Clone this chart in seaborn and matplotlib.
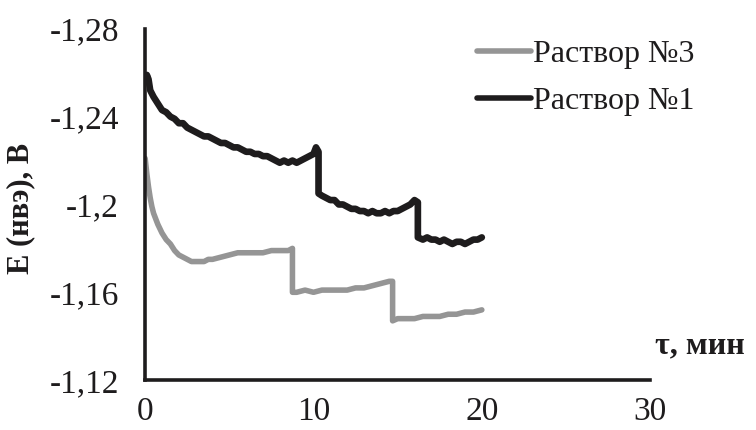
import matplotlib
matplotlib.use('Agg')
import matplotlib.pyplot as plt
import seaborn as sns
import pandas as pd

# Раствор №1 (black curve), E in V vs time in min
t_sol1 = [0.05, 0.1, 0.2, 0.3, 0.5, 0.75, 1.0, 1.25, 1.5, 1.75, 2.0, 2.25, 2.5, 2.75,
          3.0, 3.25, 3.5, 3.75, 4.0, 4.25, 4.5, 4.75, 5.0, 5.25, 5.5, 5.75, 6.0, 6.25,
          6.5, 6.75, 7.0, 7.25, 7.5, 7.75, 8.0, 8.25, 8.5, 8.75, 9.0, 9.25, 9.5, 9.75,
          10.0, 10.15, 10.3, 10.3, 10.5, 10.75, 11.0, 11.25, 11.5, 11.75, 12.0, 12.25,
          12.5, 12.75, 13.0, 13.25, 13.5, 13.75, 14.0, 14.25, 14.5, 14.75, 15.0, 15.25,
          15.5, 15.75, 16.0, 16.2, 16.2, 16.5, 16.75, 17.0, 17.25, 17.5, 17.75, 18.0,
          18.25, 18.5, 18.75, 19.0, 19.25, 19.5, 19.75, 20.0]
e_sol1 = [-1.256, -1.259, -1.257, -1.252, -1.249, -1.246, -1.243, -1.242, -1.240, -1.239,
          -1.237, -1.237, -1.235, -1.234, -1.233, -1.232, -1.231, -1.231, -1.230, -1.229,
          -1.228, -1.228, -1.227, -1.226, -1.226, -1.225, -1.224, -1.224, -1.223, -1.223,
          -1.222, -1.222, -1.221, -1.220, -1.219, -1.220, -1.219, -1.220, -1.219, -1.220,
          -1.221, -1.222, -1.223, -1.226, -1.224, -1.205, -1.204, -1.203, -1.202, -1.202,
          -1.200, -1.200, -1.199, -1.198, -1.198, -1.197, -1.197, -1.196, -1.197, -1.196,
          -1.196, -1.197, -1.196, -1.197, -1.197, -1.198, -1.199, -1.200, -1.202, -1.201,
          -1.185, -1.184, -1.185, -1.184, -1.184, -1.183, -1.184, -1.183, -1.182, -1.183,
          -1.183, -1.182, -1.183, -1.184, -1.184, -1.185]

# Раствор №3 (grey curve)
t_sol3 = [0.0, 0.1, 0.2, 0.3, 0.4, 0.5, 0.75, 1.0, 1.25, 1.5, 1.75, 2.0, 2.25, 2.5,
          2.75, 3.0, 3.25, 3.5, 3.75, 4.0, 4.5, 5.0, 5.5, 6.0, 6.5, 7.0, 7.5, 8.0, 8.5,
          8.75, 8.75, 9.0, 9.5, 10.0, 10.5, 11.0, 11.5, 12.0, 12.5, 13.0, 13.5, 14.0,
          14.5, 14.7, 14.7, 15.0, 15.5, 16.0, 16.5, 17.0, 17.5, 18.0, 18.5, 19.0, 19.5, 20.0]
e_sol3 = [-1.221, -1.214, -1.208, -1.203, -1.199, -1.196, -1.191, -1.187, -1.184, -1.182,
          -1.179, -1.177, -1.176, -1.175, -1.174, -1.174, -1.174, -1.174, -1.175, -1.175,
          -1.176, -1.177, -1.178, -1.178, -1.178, -1.178, -1.179, -1.179, -1.179, -1.180,
          -1.160, -1.160, -1.161, -1.160, -1.161, -1.161, -1.161, -1.161, -1.162, -1.162,
          -1.163, -1.164, -1.165, -1.165, -1.147, -1.148, -1.148, -1.148, -1.149, -1.149,
          -1.149, -1.150, -1.150, -1.151, -1.151, -1.152]

series_names = ['Раствор №3', 'Раствор №1']
y_ticks = [-1.28, -1.24, -1.2, -1.16, -1.12]
y_tick_labels = ['-1,28', '-1,24', '-1,2', '-1,16', '-1,12']
x_ticks = [0, 10, 20, 30]

df = pd.concat([
    pd.DataFrame({'t': t_sol3, 'E': e_sol3, 'series': series_names[0]}),
    pd.DataFrame({'t': t_sol1, 'E': e_sol1, 'series': series_names[1]}),
])

sns.set_style('white')
plt.rcParams['font.family'] = ['Liberation Serif', 'DejaVu Serif']

fig = plt.figure(figsize=(7.56, 4.30), dpi=100)
ax = fig.add_axes([0.192, 0.116, 0.668, 0.817])

palette = {series_names[0]: '#959595', series_names[1]: '#1e1c1d'}
sns.lineplot(data=df, x='t', y='E', hue='series', hue_order=series_names,
             palette=palette, estimator=None, sort=False, units='series',
             linewidth=4.0, ax=ax)
# black curve a bit heavier, like the noisy trace in the original
ax.get_lines()[1].set_linewidth(4.8)

ax.set_xlim(0, 30)
ax.set_ylim(-1.12, -1.28)
ax.set_xticks(x_ticks)
ax.set_xticklabels([str(v) for v in x_ticks])
ax.set_yticks(y_ticks)
ax.set_yticklabels(y_tick_labels)

for side in ['top', 'right']:
    ax.spines[side].set_visible(False)
for side in ['left', 'bottom']:
    ax.spines[side].set_linewidth(2.6)
    ax.spines[side].set_color('#1e1c1d')

ax.tick_params(axis='x', direction='inout', length=12, width=2.6, color='#1e1c1d',
               labelsize=24, pad=6, labelcolor='#1e1c1d')
ax.tick_params(axis='y', direction='out', length=7, width=2.6, color='#1e1c1d',
               labelsize=24, pad=12, labelcolor='#1e1c1d')

ax.set_xlabel('')
ax.set_ylabel('E (нвэ), В', fontsize=22, fontweight='bold', color='#1e1c1d')
ax.yaxis.set_label_coords(-0.218, 0.49)
ax.text(1.01, 0.055, 'τ, мин', transform=ax.transAxes, ha='left', va='bottom',
        fontsize=23, fontweight='bold', color='#1e1c1d')

leg = ax.legend(loc='upper left', bbox_to_anchor=(0.6, 1.05), frameon=False,
                fontsize=23, handlelength=1.7, handletextpad=0.05, labelspacing=0.55)
for line in leg.get_lines():
    line.set_linewidth(4.0)
for txt in leg.get_texts():
    txt.set_color('#1e1c1d')

fig.savefig('out.png', dpi=100)
